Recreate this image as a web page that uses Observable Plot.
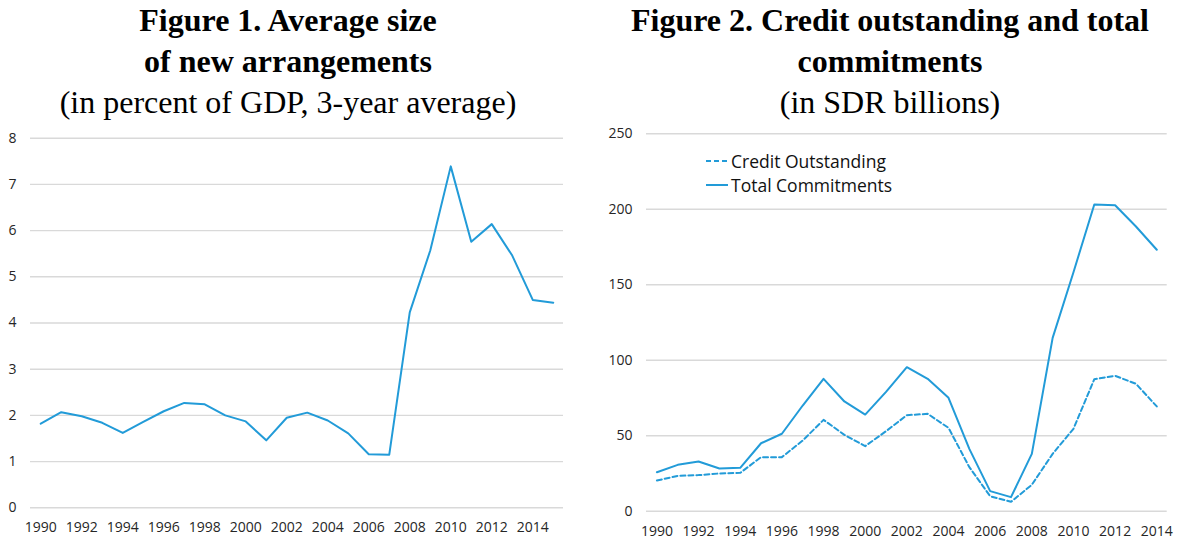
<!DOCTYPE html>
<html>
<head>
<meta charset="utf-8">
<script src="https://cdn.jsdelivr.net/npm/d3@7"></script>
<script src="https://cdn.jsdelivr.net/npm/@observablehq/plot@0.6"></script>
<style>
  html, body { margin: 0; padding: 0; background: #fff; }
  #wrap { position: relative; width: 1178px; height: 540px; overflow: hidden; }
  .title { position: absolute; top: 0; text-align: center; font-family: "Liberation Serif", "Times New Roman", serif; font-size: 32px; line-height: 41px; color: #000; }
  .title b { font-weight: bold; }
  .panel { position: absolute; top: 120px; }
  .legend { position: absolute; font-family: "Open Sans", sans-serif; font-size: 17.5px; color: #111; }
  .legend div { display: flex; align-items: center; height: 24.5px; }
  .legend svg { margin-right: 3px; }
</style>
</head>
<body>
<div id="wrap">
  <div class="title" style="left:0;width:576px;"><b>Figure 1. Average size<br>of new arrangements</b><br>(in percent of GDP, 3-year average)</div>
  <div class="title" style="left:590px;width:600px;"><b>Figure 2. Credit outstanding and total<br>commitments</b><br>(in SDR billions)</div>
  <div class="panel" id="p1" style="left:0;"></div>
  <div class="panel" id="p2" style="left:590px;"></div>
  <div class="legend" style="left:706px;top:148.5px;">
    <div><svg width="22" height="4"><line x1="0" y1="2" x2="22" y2="2" stroke="#229bd8" stroke-width="2" stroke-dasharray="5,3"/></svg>Credit Outstanding</div>
    <div><svg width="22" height="4"><line x1="0" y1="2" x2="22" y2="2" stroke="#229bd8" stroke-width="2"/></svg>Total Commitments</div>
  </div>
</div>
<script>
const years1 = d3.range(1990, 2016);
const avgSize = [1.82, 2.07, 1.98, 1.84, 1.62, 1.86, 2.09, 2.27, 2.24, 2.00, 1.87, 1.46, 1.95, 2.06, 1.89, 1.61, 1.16, 1.15, 4.23, 5.57, 7.39, 5.76, 6.14, 5.46, 4.50, 4.44];

const years2 = d3.range(1990, 2015);
const creditOutstanding = [20.3, 23.4, 23.9, 25.0, 25.4, 35.8, 35.8, 46.8, 60.5, 50.6, 43.1, 53.0, 63.6, 64.5, 55.2, 29.2, 9.9, 6.2, 17.5, 38.0, 54.6, 87.4, 89.7, 84.4, 69.4];
const totalCommitments = [25.8, 30.7, 32.9, 28.3, 28.7, 45.0, 51.3, 70.0, 87.7, 72.7, 64.0, 79.0, 95.4, 87.7, 75.1, 41.3, 13.3, 9.3, 38.0, 114.8, 158.3, 203.2, 202.7, 188.6, 173.2];

const yTicks1 = d3.range(0, 9, 1);
const yTicks2 = d3.range(0, 251, 50);
const xTicks1 = years1.filter(y => y % 2 === 0);
const xTicks2 = years2.filter(y => y % 2 === 0);

const lineColor = "#229bd8";
const gridColor = "#d9d9d9";
const tickStyle = { fontFamily: "Open Sans, sans-serif", fontSize: "14px", color: "#262626", overflow: "visible" };
const fmt = d => String(d);

const d1 = years1.map((y, i) => ({ year: y, value: avgSize[i] }));
const d2 = years2.flatMap((y, i) => [
  { year: y, value: creditOutstanding[i], series: "Credit Outstanding" },
  { year: y, value: totalCommitments[i], series: "Total Commitments" }
]);

const chart1 = Plot.plot({
  width: 590, height: 420,
  marginLeft: 30, marginRight: 27, marginTop: 17.7, marginBottom: 32.7,
  style: tickStyle,
  x: { type: "linear", domain: [years1[0] - 0.5, years1[years1.length - 1] + 0.5], label: null },
  y: { domain: [0, 8], label: null },
  marks: [
    Plot.ruleY(yTicks1, { stroke: gridColor, strokeWidth: 1.4 }),
    Plot.axisY({ ticks: yTicks1, tickSize: 0, tickPadding: 14, label: null, tickFormat: fmt, fontSize: 14 }),
    Plot.axisX({ ticks: xTicks1, tickSize: 0, tickPadding: 14, label: null, tickFormat: fmt, fontSize: 14 }),
    Plot.line(d1, { x: "year", y: "value", stroke: lineColor, strokeWidth: 2 })
  ]
});
document.getElementById("p1").appendChild(chart1);

const chart2 = Plot.plot({
  width: 588, height: 420,
  marginLeft: 56, marginRight: 11.3, marginTop: 13.3, marginBottom: 29.3,
  style: tickStyle,
  x: { type: "linear", domain: [years2[0] - 0.5, years2[years2.length - 1] + 0.5], label: null },
  y: { domain: [0, 250], label: null },
  marks: [
    Plot.ruleY(yTicks2, { stroke: gridColor, strokeWidth: 1.4 }),
    Plot.axisY({ ticks: yTicks2, tickSize: 0, tickPadding: 14, label: null, tickFormat: fmt, fontSize: 14 }),
    Plot.axisX({ ticks: xTicks2, tickSize: 0, tickPadding: 15, label: null, tickFormat: fmt, fontSize: 14 }),
    Plot.line(d2.filter(d => d.series === "Credit Outstanding"), { x: "year", y: "value", stroke: lineColor, strokeWidth: 2, strokeDasharray: "5,3" }),
    Plot.line(d2.filter(d => d.series === "Total Commitments"), { x: "year", y: "value", stroke: lineColor, strokeWidth: 2 })
  ]
});
document.getElementById("p2").appendChild(chart2);
</script>
</body>
</html>
